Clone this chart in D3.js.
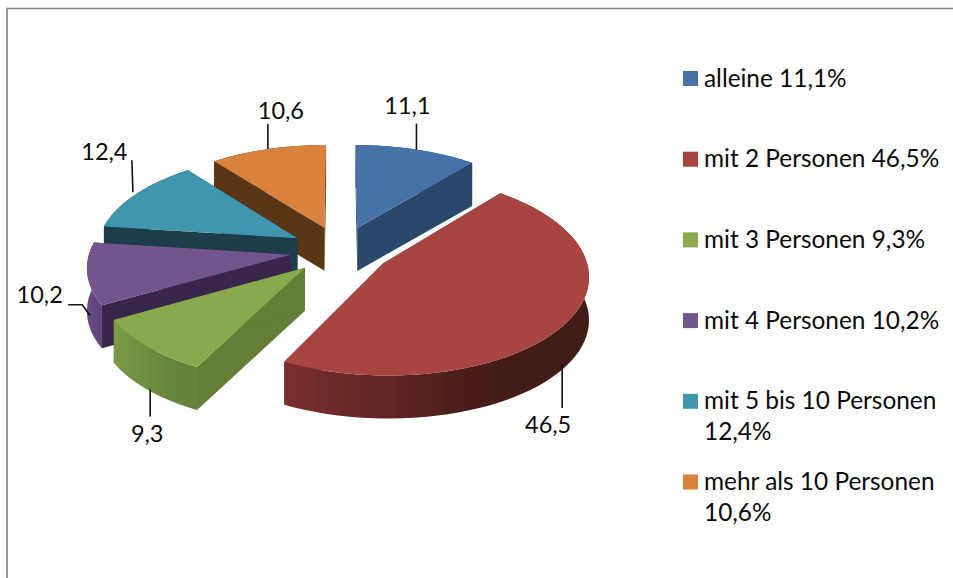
<!DOCTYPE html>
<html>
<head>
<meta charset="utf-8">
<script src="https://cdn.jsdelivr.net/npm/d3@7"></script>
<style>
  body { margin: 0; background: #fff; }
  text { font-family: Lato, "Open Sans", sans-serif; fill: #0a0a0a; }
</style>
</head>
<body>
<svg id="chart" width="953" height="578"></svg>
<script>
const categories = ['alleine', 'mit 2 Personen', 'mit 3 Personen', 'mit 4 Personen', 'mit 5 bis 10 Personen', 'mehr als 10 Personen'];
const shares = [11.1, 46.5, 9.3, 10.2, 12.4, 10.6];
const topColors = ['#4672a8', '#a84442', '#8aa84e', '#72558c', '#4096ae', '#d8823c'];
const faceColors = ['#2a4a6b', '#4a1c1a', '#657d36', '#37264c', '#1a3c48', '#5a3414'];
const rimLeft = ['#2a4a6b', '#7a302e', '#7b9a47', '#6a4f85', '#1a3c48', '#5a3414'];
const rimRight = ['#2a4a6b', '#431a18', '#66823a', '#5e4579', '#1a3c48', '#5a3414'];

// leader line per slice: does it start under the wall, and its points relative to the rim point
const leaderFromBase = [false, true, true, true, false, false];
const leaderBends = [
  [[0, 0], [0, -26]],
  [[-5, 0], [-5, 43]],
  [[3, 0], [3, 27]],
  [[3, -1], [-5, -12], [-19, -12]],
  [[-3, -2], [-4, -34]],
  [[0, 0], [0, -25]]
];
const labelOffsets = [[-9, -36], [-19, 68], [0, 52], [-47.5, -14], [-31.5, -34], [13, -30]];

const svg = d3.select('#chart');
const explode = 0.25;   // slice offset in radius units
const persp = 0.11;     // how much the front grows
const depth = 43;

const xScale = d3.scaleLinear().domain([0, 1]).range([340.5, 541.5]);
const yScale = d3.scaleLinear().domain([0, 1]).range([250, 346.5]);

// plane coords -> screen, u to the right, v towards the viewer
const project = (u, v, drop = 0) => {
  const s = 1 / (1 - persp * v);
  return [xScale(u * s), yScale(v * s) + drop * depth];
};

const pie = d3.pie().sort(null).value(d => d);
const arcs = pie(shares).map((d, i) => {
  const mid = (d.startAngle + d.endAngle) / 2;
  return { ...d, i, mid, ax: explode * Math.sin(mid), ay: -explode * Math.cos(mid) };
});

const rimPoint = (d, a, drop) => project(d.ax + Math.sin(a), d.ay - Math.cos(a), drop);
const apexPoint = (d, drop) => project(d.ax, d.ay, drop);
const rimAngles = d => d3.range(0, 61).map(k => d.startAngle + (d.endAngle - d.startAngle) * k / 60);

const line = d3.line();
const defs = svg.append('defs');

// the reference is a slightly soft screenshot
defs.append('filter').attr('id', 'soft')
  .append('feGaussianBlur').attr('stdDeviation', 0.5);

// outer edge gets a left-to-right shade like the old office 3d pies
arcs.forEach(d => {
  const xs = rimAngles(d).map(a => rimPoint(d, a, 0)[0]);
  const g = defs.append('linearGradient')
    .attr('id', 'rim' + d.i)
    .attr('gradientUnits', 'userSpaceOnUse')
    .attr('x1', d3.min(xs)).attr('x2', d3.max(xs))
    .attr('y1', 0).attr('y2', 0);
  g.append('stop').attr('offset', 0).attr('stop-color', rimLeft[d.i]);
  g.append('stop').attr('offset', 0.7).attr('stop-color', rimRight[d.i]);
  g.append('stop').attr('offset', 1).attr('stop-color', rimRight[d.i]);
});

// frame, only top and left are visible
svg.append('line').attr('x1', 6).attr('x2', 953).attr('y1', 8.5).attr('y2', 8.5)
  .attr('stroke', '#868686').attr('stroke-width', 1.5);
svg.append('line').attr('x1', 7).attr('x2', 7).attr('y1', 8).attr('y2', 578)
  .attr('stroke', '#9a9a9a').attr('stroke-width', 2);

// back slices first
const drawOrder = arcs.slice().sort((a, b) => (-Math.cos(a.mid)) - (-Math.cos(b.mid)));

const slices = svg.append('g').attr('filter', 'url(#soft)').selectAll('g')
  .data(drawOrder)
  .join('g');

slices.each(function(d) {
  const g = d3.select(this);
  const quad = a => [apexPoint(d, 0), rimPoint(d, a, 0), rimPoint(d, a, 1), apexPoint(d, 1)];

  g.append('path').attr('d', line(quad(d.startAngle)) + 'Z').attr('fill', faceColors[d.i]);
  g.append('path').attr('d', line(quad(d.endAngle)) + 'Z').attr('fill', faceColors[d.i]);

  const angles = rimAngles(d);
  const rimPts = angles.map(a => rimPoint(d, a, 0))
    .concat(angles.slice().reverse().map(a => rimPoint(d, a, 1)));
  g.append('path').attr('d', line(rimPts) + 'Z').attr('fill', `url(#rim${d.i})`);

  const topPts = [apexPoint(d, 0)].concat(angles.map(a => rimPoint(d, a, 0)));
  g.append('path').attr('d', line(topPts) + 'Z').attr('fill', topColors[d.i]);
});

// leader lines and value labels
arcs.forEach(d => {
  const start = rimPoint(d, d.mid, leaderFromBase[d.i] ? 1 : 0);
  const pts = leaderBends[d.i].map(b => [start[0] + b[0], start[1] + b[1]]);
  svg.append('path').attr('d', line(pts))
    .attr('fill', 'none').attr('stroke', '#111').attr('stroke-width', 1.6);
  svg.append('text')
    .attr('x', start[0] + labelOffsets[d.i][0])
    .attr('y', start[1] + labelOffsets[d.i][1])
    .attr('text-anchor', 'middle')
    .attr('font-size', 23.5)
    .text(String(shares[d.i]).replace('.', ','));
});

// legend
const legendY = d3.scalePoint().domain(categories).range([78.5, 482]);
const legend = svg.append('g').selectAll('g')
  .data(categories)
  .join('g')
  .attr('transform', d => `translate(683,${legendY(d)})`);

legend.append('rect')
  .attr('y', -7.5)
  .attr('width', 15).attr('height', 15)
  .attr('fill', (d, i) => topColors[i]);

legend.append('text')
  .attr('font-size', 24.4)
  .each(function(d, i) {
    const val = String(shares[i]).replace('.', ',') + '%';
    const lines = d.length > 15 ? [d, val] : [d + ' ' + val];
    d3.select(this).selectAll('tspan')
      .data(lines)
      .join('tspan')
      .attr('x', 21)
      .attr('y', (l, k) => 8 + k * 31)
      .text(l => l);
  });
</script>
</body>
</html>
